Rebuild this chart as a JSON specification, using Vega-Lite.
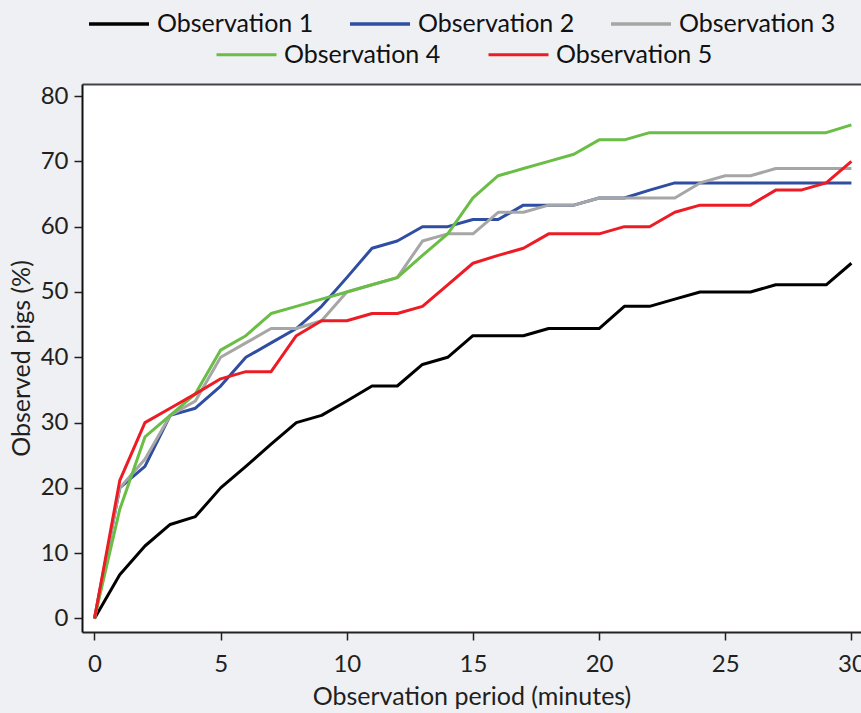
{
  "$schema": "https://vega.github.io/schema/vega-lite/v6.json",
  "autosize": {"type": "none"},
  "padding": {"left": 82, "top": 84, "right": 0, "bottom": 81},
  "width": 779,
  "height": 548,
  "background": "#eff0f3",
  "config": {
    "view": {"fill": "white", "stroke": null},
    "font": "Lato",
    "axis": {
      "grid": false,
      "labelFont": "Lato",
      "labelFontSize": 24,
      "labelColor": "#231f20",
      "titleFont": "Lato",
      "titleFontSize": 25,
      "titleFontWeight": "normal",
      "titleColor": "#231f20",
      "tickColor": "#231f20",
      "domainColor": "#111",
      "domainWidth": 2,
      "tickWidth": 1.5,
      "tickSize": 8
    },
    "legend": {
      "labelFont": "Lato",
      "labelFontSize": 25,
      "labelColor": "#111",
      "labelLimit": 400
    }
  },
  "data": {
    "values": [
      {"t":0,"series":"Observation 1","v":0},{"t":1,"series":"Observation 1","v":6.7},{"t":2,"series":"Observation 1","v":11.1},{"t":3,"series":"Observation 1","v":14.4},{"t":4,"series":"Observation 1","v":15.6},{"t":5,"series":"Observation 1","v":20},{"t":6,"series":"Observation 1","v":23.3},{"t":7,"series":"Observation 1","v":26.7},{"t":8,"series":"Observation 1","v":30},{"t":9,"series":"Observation 1","v":31.1},{"t":10,"series":"Observation 1","v":33.3},{"t":11,"series":"Observation 1","v":35.6},{"t":12,"series":"Observation 1","v":35.6},{"t":13,"series":"Observation 1","v":38.9},{"t":14,"series":"Observation 1","v":40},{"t":15,"series":"Observation 1","v":43.3},{"t":16,"series":"Observation 1","v":43.3},{"t":17,"series":"Observation 1","v":43.3},{"t":18,"series":"Observation 1","v":44.4},{"t":19,"series":"Observation 1","v":44.4},{"t":20,"series":"Observation 1","v":44.4},{"t":21,"series":"Observation 1","v":47.8},{"t":22,"series":"Observation 1","v":47.8},{"t":23,"series":"Observation 1","v":48.9},{"t":24,"series":"Observation 1","v":50},{"t":25,"series":"Observation 1","v":50},{"t":26,"series":"Observation 1","v":50},{"t":27,"series":"Observation 1","v":51.1},{"t":28,"series":"Observation 1","v":51.1},{"t":29,"series":"Observation 1","v":51.1},{"t":30,"series":"Observation 1","v":54.4},
      {"t":0,"series":"Observation 2","v":0},{"t":1,"series":"Observation 2","v":20},{"t":2,"series":"Observation 2","v":23.3},{"t":3,"series":"Observation 2","v":31.1},{"t":4,"series":"Observation 2","v":32.2},{"t":5,"series":"Observation 2","v":35.6},{"t":6,"series":"Observation 2","v":40},{"t":7,"series":"Observation 2","v":42.2},{"t":8,"series":"Observation 2","v":44.4},{"t":9,"series":"Observation 2","v":47.8},{"t":10,"series":"Observation 2","v":52.2},{"t":11,"series":"Observation 2","v":56.7},{"t":12,"series":"Observation 2","v":57.8},{"t":13,"series":"Observation 2","v":60},{"t":14,"series":"Observation 2","v":60},{"t":15,"series":"Observation 2","v":61.1},{"t":16,"series":"Observation 2","v":61.1},{"t":17,"series":"Observation 2","v":63.3},{"t":18,"series":"Observation 2","v":63.3},{"t":19,"series":"Observation 2","v":63.3},{"t":20,"series":"Observation 2","v":64.4},{"t":21,"series":"Observation 2","v":64.4},{"t":22,"series":"Observation 2","v":65.6},{"t":23,"series":"Observation 2","v":66.7},{"t":24,"series":"Observation 2","v":66.7},{"t":25,"series":"Observation 2","v":66.7},{"t":26,"series":"Observation 2","v":66.7},{"t":27,"series":"Observation 2","v":66.7},{"t":28,"series":"Observation 2","v":66.7},{"t":29,"series":"Observation 2","v":66.7},{"t":30,"series":"Observation 2","v":66.7},
      {"t":0,"series":"Observation 3","v":0},{"t":1,"series":"Observation 3","v":20},{"t":2,"series":"Observation 3","v":24.4},{"t":3,"series":"Observation 3","v":31.1},{"t":4,"series":"Observation 3","v":33.3},{"t":5,"series":"Observation 3","v":40},{"t":6,"series":"Observation 3","v":42.2},{"t":7,"series":"Observation 3","v":44.4},{"t":8,"series":"Observation 3","v":44.4},{"t":9,"series":"Observation 3","v":45.6},{"t":10,"series":"Observation 3","v":50},{"t":11,"series":"Observation 3","v":51.1},{"t":12,"series":"Observation 3","v":52.2},{"t":13,"series":"Observation 3","v":57.8},{"t":14,"series":"Observation 3","v":58.9},{"t":15,"series":"Observation 3","v":58.9},{"t":16,"series":"Observation 3","v":62.2},{"t":17,"series":"Observation 3","v":62.2},{"t":18,"series":"Observation 3","v":63.3},{"t":19,"series":"Observation 3","v":63.3},{"t":20,"series":"Observation 3","v":64.4},{"t":21,"series":"Observation 3","v":64.4},{"t":22,"series":"Observation 3","v":64.4},{"t":23,"series":"Observation 3","v":64.4},{"t":24,"series":"Observation 3","v":66.7},{"t":25,"series":"Observation 3","v":67.8},{"t":26,"series":"Observation 3","v":67.8},{"t":27,"series":"Observation 3","v":68.9},{"t":28,"series":"Observation 3","v":68.9},{"t":29,"series":"Observation 3","v":68.9},{"t":30,"series":"Observation 3","v":68.9},
      {"t":0,"series":"Observation 4","v":0},{"t":1,"series":"Observation 4","v":16.7},{"t":2,"series":"Observation 4","v":27.8},{"t":3,"series":"Observation 4","v":31.1},{"t":4,"series":"Observation 4","v":34.4},{"t":5,"series":"Observation 4","v":41.1},{"t":6,"series":"Observation 4","v":43.3},{"t":7,"series":"Observation 4","v":46.7},{"t":8,"series":"Observation 4","v":47.8},{"t":9,"series":"Observation 4","v":48.9},{"t":10,"series":"Observation 4","v":50},{"t":11,"series":"Observation 4","v":51.1},{"t":12,"series":"Observation 4","v":52.2},{"t":13,"series":"Observation 4","v":55.6},{"t":14,"series":"Observation 4","v":58.9},{"t":15,"series":"Observation 4","v":64.4},{"t":16,"series":"Observation 4","v":67.8},{"t":17,"series":"Observation 4","v":68.9},{"t":18,"series":"Observation 4","v":70},{"t":19,"series":"Observation 4","v":71.1},{"t":20,"series":"Observation 4","v":73.3},{"t":21,"series":"Observation 4","v":73.3},{"t":22,"series":"Observation 4","v":74.4},{"t":23,"series":"Observation 4","v":74.4},{"t":24,"series":"Observation 4","v":74.4},{"t":25,"series":"Observation 4","v":74.4},{"t":26,"series":"Observation 4","v":74.4},{"t":27,"series":"Observation 4","v":74.4},{"t":28,"series":"Observation 4","v":74.4},{"t":29,"series":"Observation 4","v":74.4},{"t":30,"series":"Observation 4","v":75.6},
      {"t":0,"series":"Observation 5","v":0},{"t":1,"series":"Observation 5","v":21.1},{"t":2,"series":"Observation 5","v":30},{"t":3,"series":"Observation 5","v":32.2},{"t":4,"series":"Observation 5","v":34.4},{"t":5,"series":"Observation 5","v":36.7},{"t":6,"series":"Observation 5","v":37.8},{"t":7,"series":"Observation 5","v":37.8},{"t":8,"series":"Observation 5","v":43.3},{"t":9,"series":"Observation 5","v":45.6},{"t":10,"series":"Observation 5","v":45.6},{"t":11,"series":"Observation 5","v":46.7},{"t":12,"series":"Observation 5","v":46.7},{"t":13,"series":"Observation 5","v":47.8},{"t":14,"series":"Observation 5","v":51.1},{"t":15,"series":"Observation 5","v":54.4},{"t":16,"series":"Observation 5","v":55.6},{"t":17,"series":"Observation 5","v":56.7},{"t":18,"series":"Observation 5","v":58.9},{"t":19,"series":"Observation 5","v":58.9},{"t":20,"series":"Observation 5","v":58.9},{"t":21,"series":"Observation 5","v":60},{"t":22,"series":"Observation 5","v":60},{"t":23,"series":"Observation 5","v":62.2},{"t":24,"series":"Observation 5","v":63.3},{"t":25,"series":"Observation 5","v":63.3},{"t":26,"series":"Observation 5","v":63.3},{"t":27,"series":"Observation 5","v":65.6},{"t":28,"series":"Observation 5","v":65.6},{"t":29,"series":"Observation 5","v":66.7},{"t":30,"series":"Observation 5","v":70}
    ]
  },
  "encoding": {
    "y": {
      "field": "v", "type": "quantitative",
      "scale": {"domain": [-2.07, 81.85], "nice": false, "zero": false},
      "axis": {"values": [0,10,20,30,40,50,60,70,80], "title": "Observed pigs (%)", "labelPadding": 6, "titlePadding": 6}
    }
  },
  "layer": [
    {
      "transform": [{"filter": "datum.series == 'Observation 1' || datum.series == 'Observation 2' || datum.series == 'Observation 3'"}],
      "mark": {"type": "line", "strokeWidth": 3, "strokeJoin": "round"},
      "encoding": {
        "x": {
          "field": "t", "type": "quantitative",
          "scale": {"domain": [-0.495, 30.38], "nice": false, "zero": false},
          "axis": {"values": [0,5,10,15,20,25,30], "title": "Observation period (minutes)", "labelPadding": 12, "titlePadding": 8, "domainColor": "#222"}
        },
        "color": {
          "field": "series", "type": "nominal",
          "scale": {"domain": ["Observation 1","Observation 2","Observation 3"], "range": ["#000000","#2f4ea1","#a6a6a6"]},
          "legend": {"orient": "none", "legendX": 5, "legendY": -92, "direction": "horizontal", "title": null, "symbolType": "stroke", "symbolSize": 3600, "symbolStrokeWidth": 3.5, "labelOffset": 6, "columnPadding": 29, "padding": 0}
        }
      }
    },
    {
      "transform": [{"filter": "datum.series == 'Observation 4' || datum.series == 'Observation 5'"}],
      "mark": {"type": "line", "strokeWidth": 3, "strokeJoin": "round"},
      "encoding": {
        "x": {
          "field": "t", "type": "quantitative",
          "axis": {"orient": "top", "labels": false, "ticks": false, "title": null, "domainColor": "#444"}
        },
        "stroke": {
          "field": "series", "type": "nominal",
          "scale": {"domain": ["Observation 4","Observation 5"], "range": ["#6abd45","#ed1c24"]},
          "legend": {"orient": "none", "legendX": 133, "legendY": -61, "direction": "horizontal", "title": null, "symbolType": "stroke", "symbolSize": 3600, "symbolStrokeWidth": 3, "labelOffset": 6, "columnPadding": 41, "padding": 0}
        }
      }
    }
  ],
  "resolve": {"axis": {"x": "independent"}}
}
